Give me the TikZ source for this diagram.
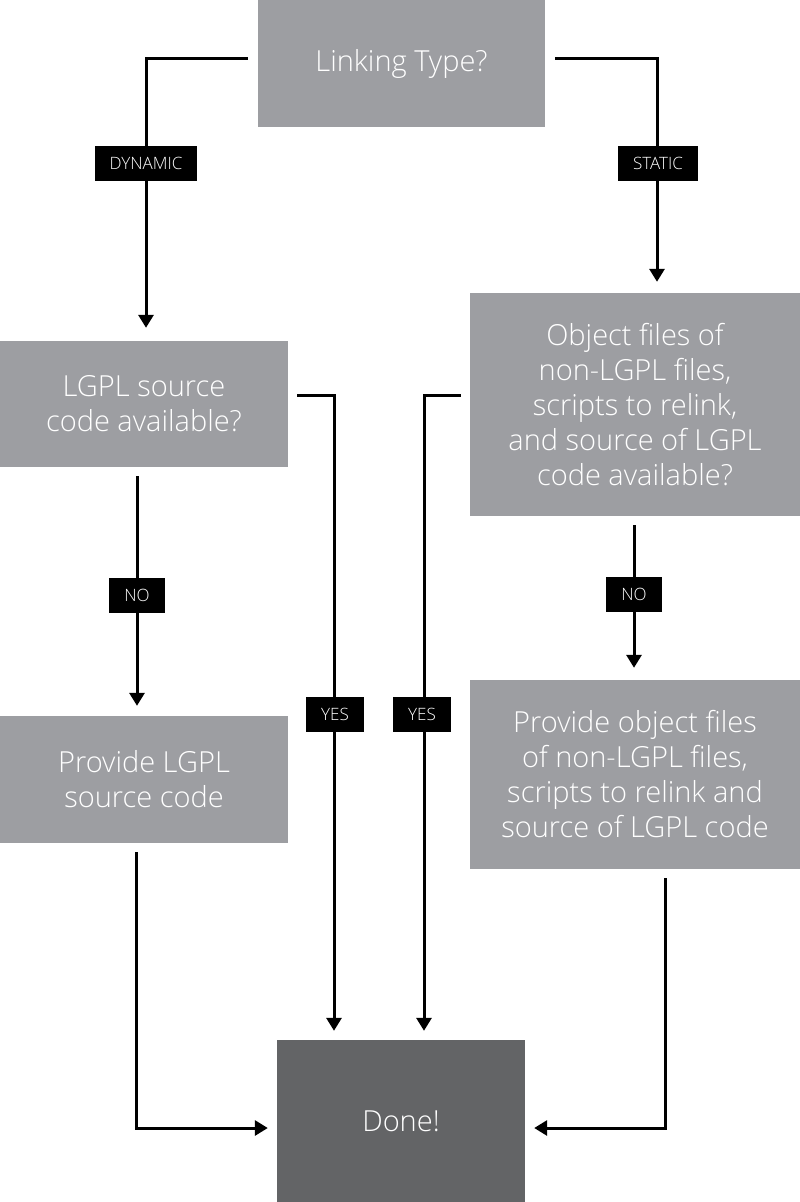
\documentclass[tikz,border=0pt]{standalone}
\usepackage{fontspec}
\setmainfont{Open Sans}[UprightFont=* Light]
\usetikzlibrary{arrows.meta}
\definecolor{boxgray}{HTML}{9D9EA2}
\definecolor{donegray}{HTML}{636466}
\begin{document}
\begin{tikzpicture}[x=1pt,y=-1pt,>={Triangle[length=13pt,width=15pt]},
		box/.style={fill=boxgray,text=white,align=center,inner sep=0,
			font=\fontsize{29}{35}\selectfont},
		tag/.style={fill=black,text=white,inner xsep=15pt,inner ysep=0,
			minimum height=35pt,font=\fontsize{17}{19}\selectfont},
		arr/.style={->,line width=3pt,shorten >=9pt}]
		\useasboundingbox (0,0) rectangle (800,1202);
		\node[box,minimum width=287pt,minimum height=127pt] (link) at (401.5,63.5) {Linking Type?};
		\node[box,minimum width=288pt,minimum height=126pt] (lsrc) at (144,404) {LGPL source\\code available?};
		\node[box,minimum width=330pt,minimum height=223pt] (obj) at (635,404.5) {Object files of\\non-LGPL files,\\scripts to relink,\\and source of LGPL\\code available?};
		\node[box,minimum width=288pt,minimum height=127pt] (plsrc) at (144,779.5) {Provide LGPL\\source code};
		\node[box,minimum width=330pt,minimum height=189pt] (pobj) at (635,774.5) {Provide object files\\of non-LGPL files,\\scripts to relink and\\source of LGPL code};
		\node[box,fill=donegray,minimum width=248pt,minimum height=162pt] (done) at (401,1121) {Done!};
		\draw[arr,shorten >=13pt] ([xshift=-10pt,yshift=5pt]link.west) -| ([xshift=2pt]lsrc.north);
		\draw[arr,shorten >=11pt] ([xshift=10pt,yshift=5pt]link.east) -| ([xshift=22pt]obj.north);
		\draw[arr,shorten <=9pt,shorten >=10pt] ([xshift=-7pt]lsrc.south) -- ([xshift=-7pt]plsrc.north);
		\draw[arr,shorten <=9pt,shorten >=12pt] ([xshift=-1pt]obj.south) -- ([xshift=-1pt]pobj.north);
		\draw[arr] ([xshift=9pt,yshift=9pt]lsrc.east) -| ([xshift=-67pt]done.north);
		\draw[arr] ([xshift=-9pt,yshift=9pt]obj.west) -| ([xshift=23pt]done.north);
		\draw[arr] ([xshift=-8pt,yshift=-9pt]plsrc.south) |- ([yshift=-7pt]done.west);
		\draw[arr] ([xshift=30pt,yshift=-9pt]pobj.south) |- ([yshift=-7pt]done.east);
		\node[tag] (dyn) at (146,163) {DYNAMIC};
		\node[tag] (stat) at (658,163) {STATIC};
		\node[tag] (no1) at (137,595) {NO};
		\node[tag] (no2) at (634,594) {NO};
		\node[tag] (yes1) at (335,714) {YES};
		\node[tag] (yes2) at (422,714) {YES};
	\end{tikzpicture}
\end{document}
